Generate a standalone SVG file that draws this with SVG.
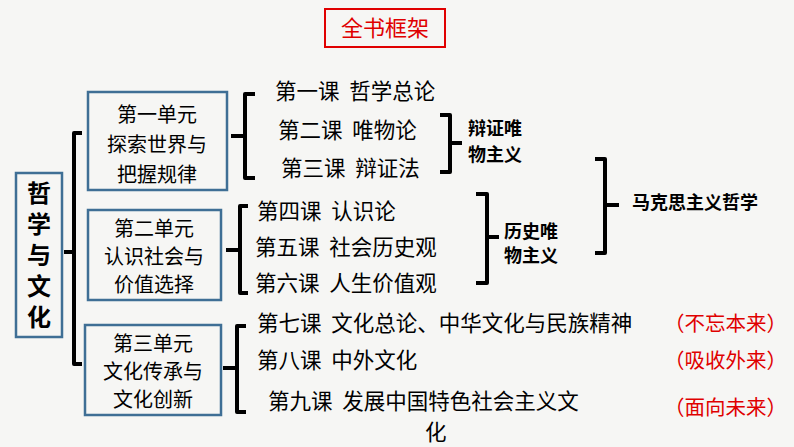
<svg xmlns="http://www.w3.org/2000/svg" width="794" height="447" viewBox="0 0 794 447">
<style>
text{font-family:"Noto Sans CJK SC",sans-serif;fill:#000}
.u{font-size:20px;text-anchor:middle}
.l{font-size:21.5px;white-space:pre}
.b{font-size:18px;font-weight:bold}
.r{font-size:20.5px;fill:#e00000}
.h{font-size:24px;font-weight:bold;text-anchor:middle}
.box{fill:none;stroke:#3f6f95;stroke-width:2.5}
.br{fill:none;stroke:#000;stroke-width:4;stroke-linejoin:round}
</style>
<rect width="794" height="447" fill="#f6f6f4"/>
<g id="title"><rect x="325" y="9" width="120" height="38" fill="none" stroke="#e00000" stroke-width="2"/><text x="385" y="36" text-anchor="middle" style="font-size:22px;fill:#e00000">全书框架</text></g>
<g id="root"><rect class="box" x="16" y="173" width="46" height="164"/>
<text class="h" x="39" y="202">哲</text>
<text class="h" x="39" y="233">学</text>
<text class="h" x="39" y="264">与</text>
<text class="h" x="39" y="295">文</text>
<text class="h" x="39" y="326">化</text></g>
<g id="connectors">
<path class="br" d="M82,133 H74 V364 H82 M74,252 H64"/>
<path class="br" d="M255,94 H245 V178 H255 M245,136 H231"/>
<path class="br" d="M248,206 H240 V293 H248 M240,250 H226"/>
<path class="br" d="M246,326 H237 V412 H246 M237,368 H223"/>
<path class="br" d="M440,115 H450 V172 H440 M450,143 H462"/>
<path class="br" d="M476,194 H487 V283 H476 M487,237 H499"/>
<path class="br" d="M595,159 H605 V253 H595 M605,205 H619"/>
</g>
<g id="unit1"><rect class="box" x="88" y="92" width="139" height="98"/>
<text class="u" x="157" y="122">第一单元</text><text class="u" x="157" y="152">探索世界与</text><text class="u" x="157" y="182">把握规律</text></g>
<g id="unit2"><rect class="box" x="88" y="210" width="133" height="90"/>
<text class="u" x="154" y="236">第二单元</text><text class="u" x="154" y="264">认识社会与</text><text class="u" x="154" y="292">价值选择</text></g>
<g id="unit3"><rect class="box" x="85" y="325" width="136" height="90"/>
<text class="u" x="153" y="351">第三单元</text><text class="u" x="153" y="379">文化传承与</text><text class="u" x="153" y="407">文化创新</text></g>
<g id="lessons">
<text class="l" x="275" y="99" xml:space="preserve">第一课  哲学总论</text>
<text class="l" x="278" y="138" xml:space="preserve">第二课  唯物论</text>
<text class="l" x="281" y="176" xml:space="preserve">第三课  辩证法</text>
<text class="l" x="257" y="219" xml:space="preserve">第四课  认识论</text>
<text class="l" x="255" y="255" xml:space="preserve">第五课  社会历史观</text>
<text class="l" x="255" y="291" xml:space="preserve">第六课  人生价值观</text>
<text class="l" x="257" y="331" xml:space="preserve">第七课  文化总论、中华文化与民族精神</text>
<text class="l" x="257" y="368" xml:space="preserve">第八课  中外文化</text>
<text class="l" x="268" y="409" xml:space="preserve">第九课  发展中国特色社会主义文</text>
<text class="l" x="425" y="440">化</text>
</g>
<g id="groups">
<text class="b" x="468" y="135">辩证唯</text><text class="b" x="468" y="161">物主义</text>
<text class="b" x="504" y="238">历史唯</text><text class="b" x="504" y="262">物主义</text>
<text class="b" x="632" y="209">马克思主义哲学</text>
</g>
<g id="notes">
<text class="r" x="664" y="331">（不忘本来）</text>
<text class="r" x="664" y="368">（吸收外来）</text>
<text class="r" x="664" y="415">（面向未来）</text>
</g>
</svg>
